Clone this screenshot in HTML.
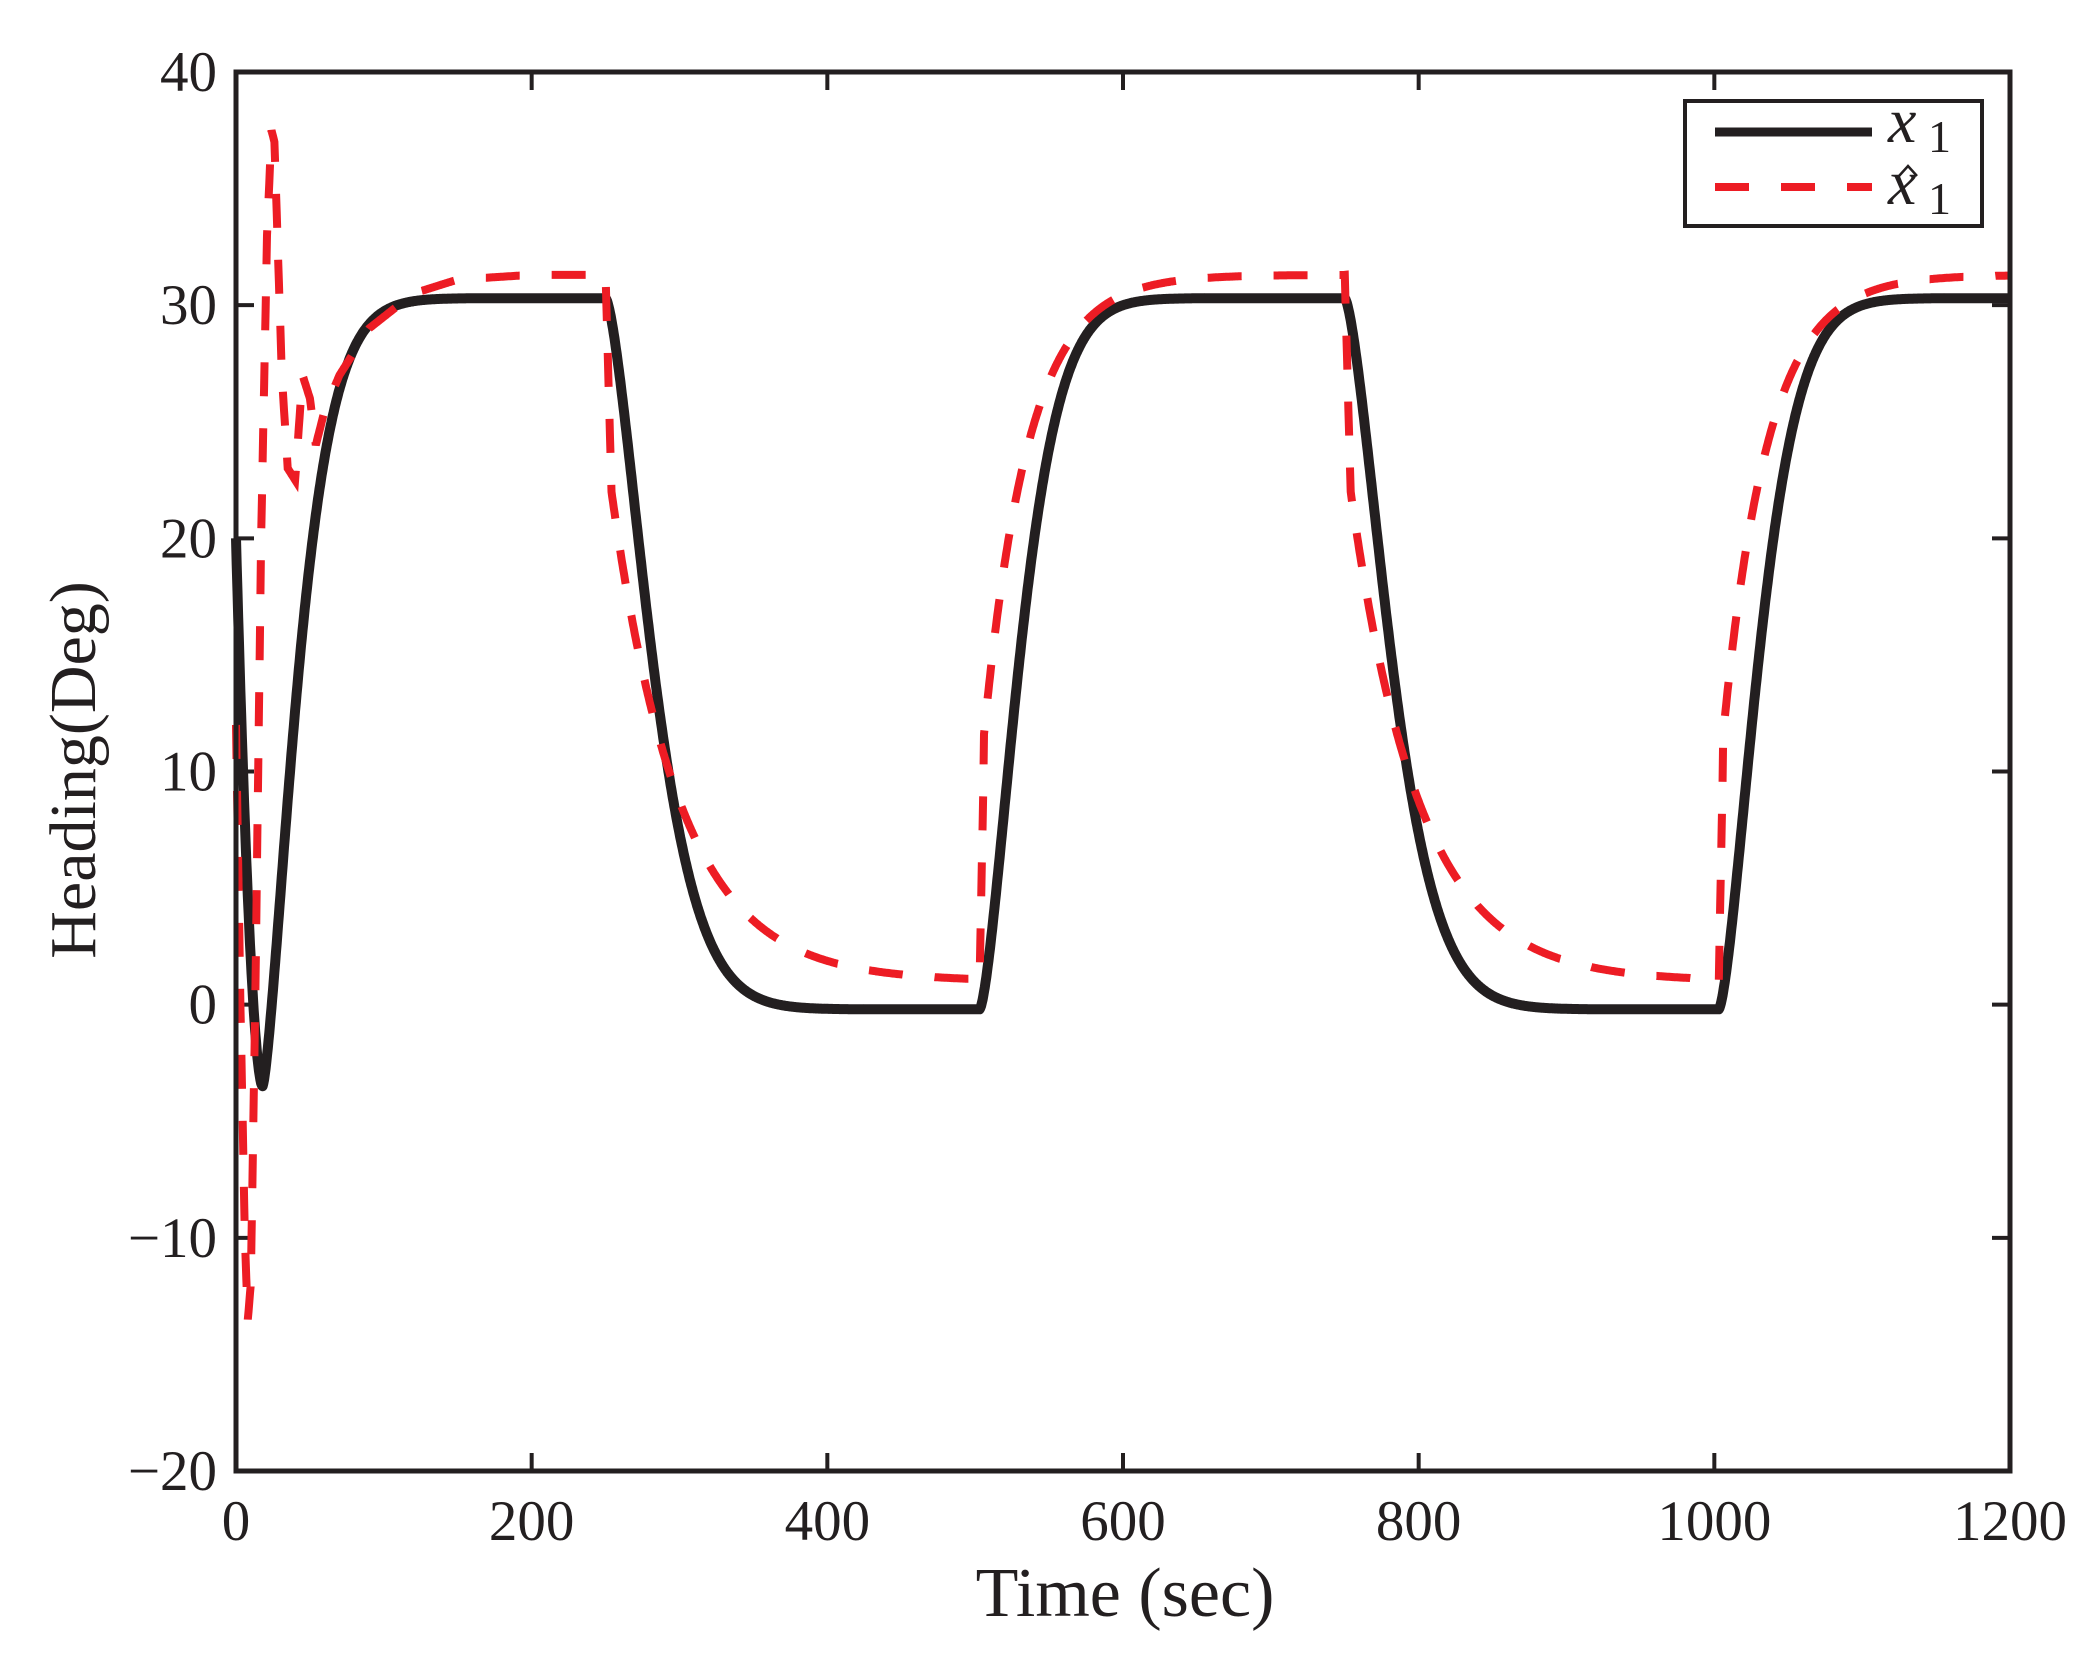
<!DOCTYPE html>
<html><head><meta charset="utf-8"><style>html,body{margin:0;padding:0;background:#fff}svg{display:block}</style></head>
<body>
<svg id="s" width="2100" height="1661" viewBox="0 0 2100 1661" xmlns="http://www.w3.org/2000/svg" font-family="'Liberation Serif', serif" fill="#231f20">
<g id="ticks" stroke="#231f20" stroke-width="4"></g>
<path id="blk" fill="none" stroke="#231f20" stroke-width="10" stroke-linejoin="round"/>
<path id="red" fill="none" stroke="#ed1c24" stroke-width="8" stroke-dasharray="34 32"/>
<rect x="236" y="72" width="1774" height="1399" fill="none" stroke="#231f20" stroke-width="5"/>
<g id="labels" font-size="57"></g>
<text x="1125" y="1616" font-size="70" text-anchor="middle">Time (sec)</text>
<text transform="translate(95,770) rotate(-90)" font-size="66" text-anchor="middle">Heading(Deg)</text>
<rect x="1685" y="101" width="297" height="125" fill="#fff" stroke="#231f20" stroke-width="4"/>
<line x1="1715" y1="132" x2="1872" y2="132" stroke="#231f20" stroke-width="9"/>
<line x1="1715" y1="187" x2="1872" y2="187" stroke="#ed1c24" stroke-width="8" stroke-dasharray="34 32"/>
<text x="1888" y="142" font-size="64" font-style="italic">x</text>
<text x="1928" y="152" font-size="46">1</text>
<text x="1888" y="204" font-size="64" font-style="italic">x</text>
<polyline points="1899,176 1908,166 1917,176" fill="none" stroke="#231f20" stroke-width="2.5"/>
<text x="1928" y="214" font-size="46">1</text>
</svg>
<script>
var X=function(t){return 236+t*1774/1200},Y=function(v){return 72+(40-v)*1399/60};
var ns="http://www.w3.org/2000/svg",tk=document.getElementById('ticks'),lb=document.getElementById('labels');
function el(p,n,a,txt){var e=document.createElementNS(ns,n);for(var k in a)e.setAttribute(k,a[k]);if(txt!=null)e.textContent=txt;p.appendChild(e);}
for(var t=0;t<=1200;t+=200){var x=X(t);el(tk,'line',{x1:x,y1:1471,x2:x,y2:1453});el(tk,'line',{x1:x,y1:72,x2:x,y2:90});el(lb,'text',{x:x,y:1540,'text-anchor':'middle'},String(t));}
for(var v=-20;v<=40;v+=10){var y=Y(v);el(tk,'line',{x1:236,y1:y,x2:254,y2:y});el(tk,'line',{x1:2010,y1:y,x2:1992,y2:y});el(lb,'text',{x:217,y:y+19,'text-anchor':'end'},(v<0?'\u2212':'')+Math.abs(v));}
var H=30.3,L=-0.2,RH=31.3,RL=1.0;
function blk(t){
 if(t<18){var f=t/18;return 20-(23.5)*(1-Math.pow(1-f,1.8));}
 if(t<250){var d=t-18;return -3.5+(H+3.5)*(1-Math.exp(-Math.pow(d/30,1.4)));}
 var c=Math.floor((t-250)/250),d=(t-250)-c*250;
 if(c%2==0)return H-(H-L)*(1-Math.exp(-Math.pow(d/40,1.5)));
 d=Math.max(0,d-3);return L+(H-L)*(1-Math.exp(-Math.pow(d/35,1.5)));}
var rp=[[0,12],[3,0],[6,-10],[8,-13.5],[10,-12],[13,0],[17,20],[21,33],[24,37.5],[26,37],[28,33],[31,27],[35,23],[40,22.5],[45,27],[50,26],[54,24],[60,25.5],[70,27],[90,29],[120,30.5],[150,31.1],[200,31.3],[250,31.3]];
function red(t){
 if(t<=250){for(var i=1;i<rp.length;i++)if(t<=rp[i][0]){var a=rp[i-1],b=rp[i];return a[1]+(b[1]-a[1])*(t-a[0])/(b[0]-a[0]);}}
 var c=Math.floor((t-250)/250),d=(t-250)-c*250;
 if(c%2==0){if(d<4)return RH-(RH-22)*d/4;return RL+(22-RL)*Math.exp(-(d-4)/46);}
 if(d<3)return RL;if(d<6)return RL+10*(d-3)/3;return RL+(RH-RL)*(1-0.65*Math.exp(-(d-6)/30));}
function path(f){var s='';for(var t=0;t<=1200;t+=0.5){s+=(t?'L':'M')+X(t).toFixed(1)+' '+Y(f(t)).toFixed(1);}return s;}
document.getElementById('blk').setAttribute('d',path(blk));
document.getElementById('red').setAttribute('d',path(red));
</script>
</body></html>
